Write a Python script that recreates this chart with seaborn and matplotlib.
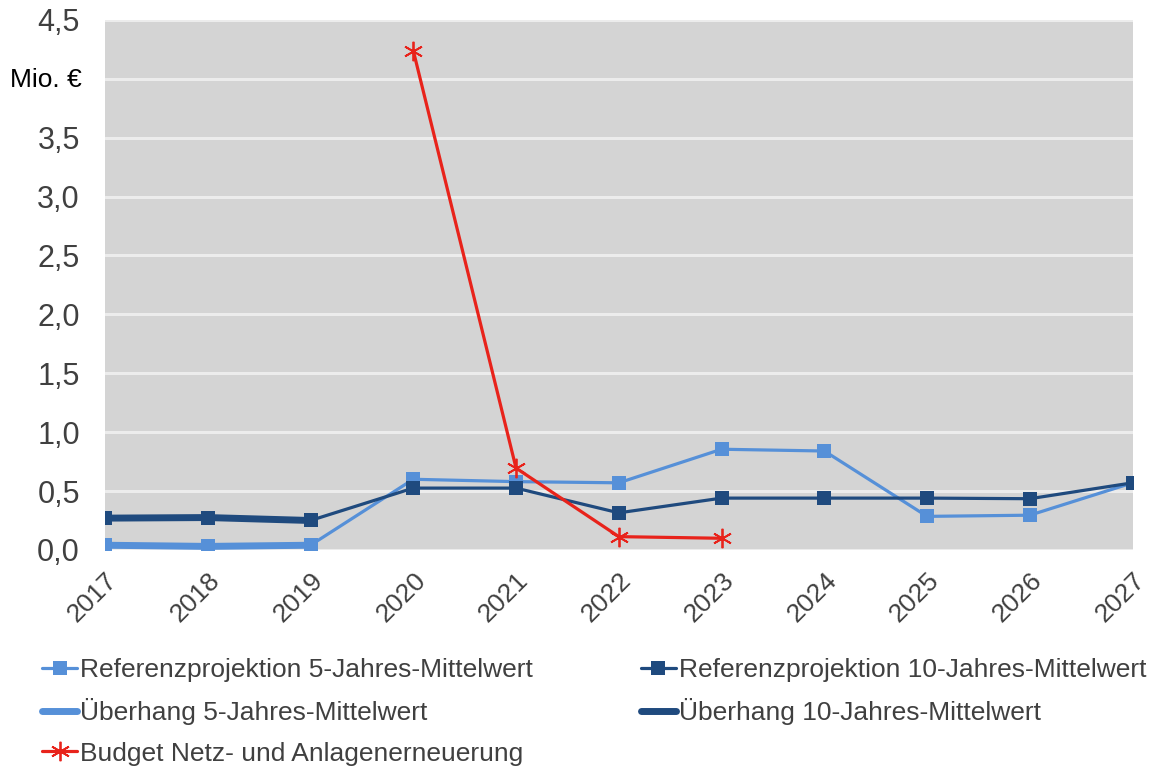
import matplotlib
matplotlib.use("Agg")
import matplotlib.pyplot as plt
import matplotlib.transforms as mtransforms
import seaborn as sns

years = [2017, 2018, 2019, 2020, 2021, 2022, 2023, 2024, 2025, 2026, 2027]
ref5 = [0.04, 0.03, 0.04, 0.60, 0.58, 0.57, 0.855, 0.84, 0.285, 0.295, 0.57]
ref10 = [0.27, 0.27, 0.25, 0.525, 0.525, 0.315, 0.44, 0.44, 0.44, 0.435, 0.57]
ueb_years = [2017, 2018, 2019]
ueb5 = [0.04, 0.03, 0.04]
ueb10 = [0.27, 0.275, 0.25]
budget_years = [2020, 2021, 2022, 2023]
budget = [4.24, 0.695, 0.113, 0.099]

labels = [
    "Referenzprojektion 5-Jahres-Mittelwert",
    "Überhang 5-Jahres-Mittelwert",
    "Budget Netz- und Anlagenerneuerung",
    "Referenzprojektion 10-Jahres-Mittelwert",
    "Überhang 10-Jahres-Mittelwert",
]
y_ticks = [0.0, 0.5, 1.0, 1.5, 2.0, 2.5, 3.0, 3.5, 4.0, 4.5]
unit_label = "Mio. €"

light = "#5690d8"
dark = "#1f4a7e"
red = "#e8231b"

sns.set_style("white")
plt.rcParams["font.family"] = ["Liberation Sans", "DejaVu Sans"]

fig = plt.figure(figsize=(11.56, 7.67), dpi=100)
ax = fig.add_axes([0.0908, 0.283, 0.889, 0.691])
ax.set_facecolor("#d4d4d4")
ax.set_axisbelow(True)

# thick overhang lines
sns.lineplot(x=ueb_years, y=ueb10, ax=ax, color=dark, linewidth=5, label=labels[4],
             solid_capstyle="round")
sns.lineplot(x=ueb_years, y=ueb5, ax=ax, color=light, linewidth=5, label=labels[1],
             solid_capstyle="round")
# projection lines with square markers
sns.lineplot(x=years, y=ref5, ax=ax, color=light, linewidth=2.3, marker="s",
             markersize=10, markeredgewidth=0, label=labels[0])
sns.lineplot(x=years, y=ref10, ax=ax, color=dark, linewidth=2.3, marker="s",
             markersize=10, markeredgewidth=0, label=labels[3])
# budget
sns.lineplot(x=budget_years, y=budget, ax=ax, color=red, linewidth=2.3,
             marker=(6, 2, 0), markersize=14, markeredgewidth=1.3,
             markeredgecolor=red, label=labels[2])

ax.set_xlim(years[0], years[-1])
ax.set_ylim(0, 4.5)
ax.set_xticks(years)
ax.set_xticklabels([str(y) for y in years], rotation=45, ha="right",
                   rotation_mode="anchor", fontsize=19, color="#404040")
shift = mtransforms.ScaledTranslation(-8 / 100, 0, fig.dpi_scale_trans)
for lbl in ax.get_xticklabels():
    lbl.set_transform(lbl.get_transform() + shift)
ax.set_yticks(y_ticks)
# the 4,0 position carries the unit label instead of a number
ax.set_yticklabels(["" if v == 4.0 else f"{v:.1f}".replace(".", ",") for v in y_ticks],
                   fontsize=22, color="#404040")
ax.tick_params(axis="both", length=0)
ax.tick_params(axis="y", pad=18)
ax.tick_params(axis="x", pad=13)
ax.grid(axis="y", color="#ececec", linewidth=2.2)
ax.grid(axis="x", visible=False)
for s in ax.spines.values():
    s.set_visible(False)
ax.set_xlabel("")
ax.set_ylabel("")

fig.text(0.009, 1 - 80 / 767, unit_label, fontsize=19, color="black", va="center")

handles, labs = ax.get_legend_handles_labels()
hmap = dict(zip(labs, handles))
ax.legend([hmap[l] for l in labels], labels, ncol=2, loc="upper left",
          bbox_to_anchor=(42 / 1156, 1 - 658 / 767), bbox_transform=fig.transFigure,
          frameon=False, fontsize=19, borderpad=0, borderaxespad=0,
          handlelength=1.33, handletextpad=0.1, columnspacing=4.1,
          labelspacing=0.62, labelcolor="#404040")

fig.savefig("out.png", dpi=100)
